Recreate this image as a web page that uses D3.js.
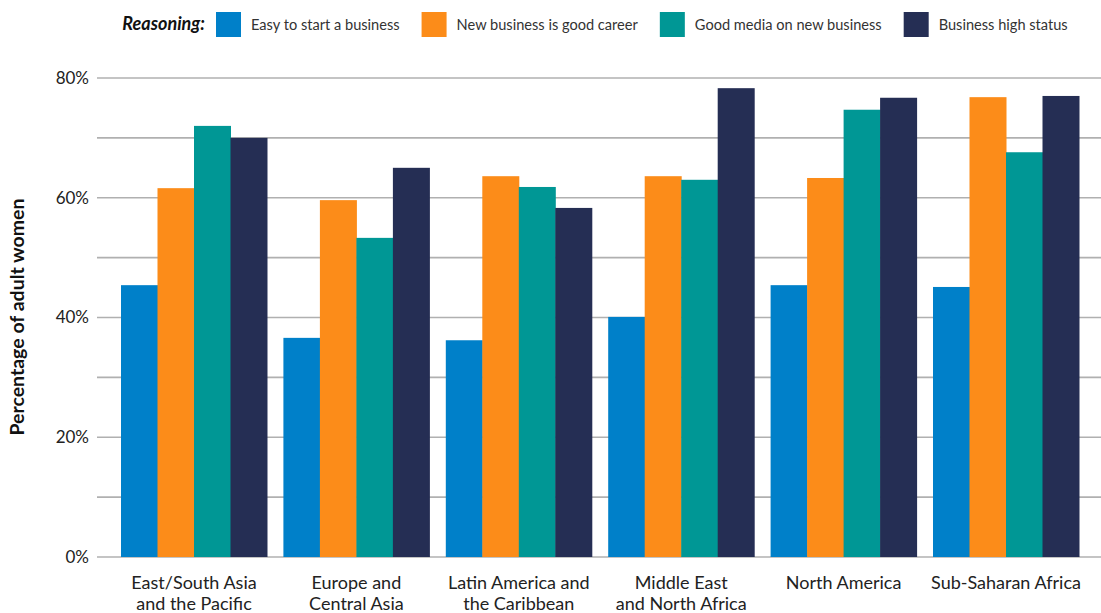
<!DOCTYPE html>
<html>
<head>
<meta charset="utf-8">
<script src="https://cdn.jsdelivr.net/npm/d3@7"></script>
<style>
  html, body { margin: 0; padding: 0; background: #fff; }
  svg { display: block; font-family: Lato, "Noto Sans", sans-serif; }
</style>
</head>
<body>
<div id="chart"></div>
<script>
// Regions along the x axis (two lines each)
const regions = [
    ['East/South Asia', 'and the Pacific'],
    ['Europe and', 'Central Asia'],
    ['Latin America and', 'the Caribbean'],
    ['Middle East', 'and North Africa'],
    ['North America'],
    ['Sub-Saharan Africa']
];

const seriesNames = ['Easy to start a business', 'New business is good career', 'Good media on new business', 'Business high status'];
const seriesColors = ['#0080c9', '#fc8c19', '#009795', '#252e54'];

// Percentage of adult women, one array per series
const easyStart = [45.4, 36.6, 36.2, 40.1, 45.4, 45.1];
const goodCareer = [61.6, 59.6, 63.6, 63.6, 63.3, 76.8];
const goodMedia = [72.0, 53.3, 61.8, 63.0, 74.7, 67.6];
const highStatus = [70.0, 65.0, 58.3, 78.3, 76.7, 77.0];

const yTicks = [0, 20, 40, 60, 80];
const gridValues = [0, 10, 20, 30, 40, 50, 60, 70, 80];

const width = 1101;
const height = 613;

const svg = d3.select('#chart')
    .append('svg')
    .attr('width', width)
    .attr('height', height);

const series = [easyStart, goodCareer, goodMedia, highStatus];

// Scales
const x0 = d3.scaleBand()
    .domain(d3.range(regions.length))
    .range([121, 1079])
    .paddingInner(0.101)
    .paddingOuter(0);

const x1 = d3.scaleBand()
    .domain(d3.range(series.length))
    .range([0, x0.bandwidth()])
    .padding(0);

const y = d3.scaleLinear()
    .domain([0, 80])
    .range([557, 78]);

// Gridlines
svg.append('g')
    .selectAll('line')
    .data(gridValues)
    .join('line')
    .attr('x1', 97)
    .attr('x2', width)
    .attr('y1', d => y(d))
    .attr('y2', d => y(d))
    .attr('stroke', '#b0b0b0')
    .attr('stroke-width', 1.6);

// Y axis tick labels
const yAxis = svg.append('g')
    .attr('transform', 'translate(89,0)')
    .call(d3.axisLeft(y).tickValues(yTicks).tickFormat(d => d + '%').tickSize(0).tickPadding(0));
yAxis.select('.domain').remove();
yAxis.selectAll('text')
    .attr('font-family', 'Lato, "Noto Sans", sans-serif')
    .attr('font-size', 17)
    .attr('fill', '#222');

// Y axis title
svg.append('text')
    .attr('transform', 'translate(24,317) rotate(-90)')
    .attr('text-anchor', 'middle')
    .attr('font-size', 19.5)
    .attr('font-weight', 'bold')
    .attr('fill', '#111')
    .text('Percentage of adult women');

// Bars
const groups = svg.append('g')
    .selectAll('g')
    .data(regions.map((r, i) => i))
    .join('g')
    .attr('transform', i => `translate(${x0(i)},0)`);

groups.selectAll('rect')
    .data(i => series.map((s, k) => ({ k, v: s[i] })))
    .join('rect')
    .attr('x', d => x1(d.k))
    .attr('width', x1.bandwidth() + 0.5)
    .attr('y', d => y(d.v))
    .attr('height', d => y(0) - y(d.v))
    .attr('fill', d => seriesColors[d.k]);

// Category labels
const labels = svg.append('g')
    .selectAll('text')
    .data(regions)
    .join('text')
    .attr('x', (d, i) => x0(i) + x0.bandwidth() / 2)
    .attr('y', 589)
    .attr('text-anchor', 'middle')
    .attr('font-size', 18)
    .attr('fill', '#222');

labels.selectAll('tspan')
    .data(d => d)
    .join('tspan')
    .attr('x', function () { return this.parentNode.getAttribute('x'); })
    .attr('dy', (d, i) => i === 0 ? 0 : 21)
    .text(d => d);

// Legend
const legend = svg.append('g');

legend.append('text')
    .attr('x', 205)
    .attr('y', 30)
    .attr('text-anchor', 'end')
    .attr('font-size', 18)
    .attr('font-weight', 'bold')
    .attr('font-style', 'italic')
    .attr('fill', '#111')
    .text('Reasoning:');

let lx = 216;
seriesNames.forEach((name, k) => {
    legend.append('rect')
        .attr('x', lx)
        .attr('y', 12)
        .attr('width', 25)
        .attr('height', 25)
        .attr('fill', seriesColors[k]);

    const t = legend.append('text')
        .attr('x', lx + 35)
        .attr('y', 30)
        .attr('font-size', 14.6)
        .attr('fill', '#333')
        .text(name);

    lx += 35 + t.node().getComputedTextLength() + 22;
});
</script>
</body>
</html>
